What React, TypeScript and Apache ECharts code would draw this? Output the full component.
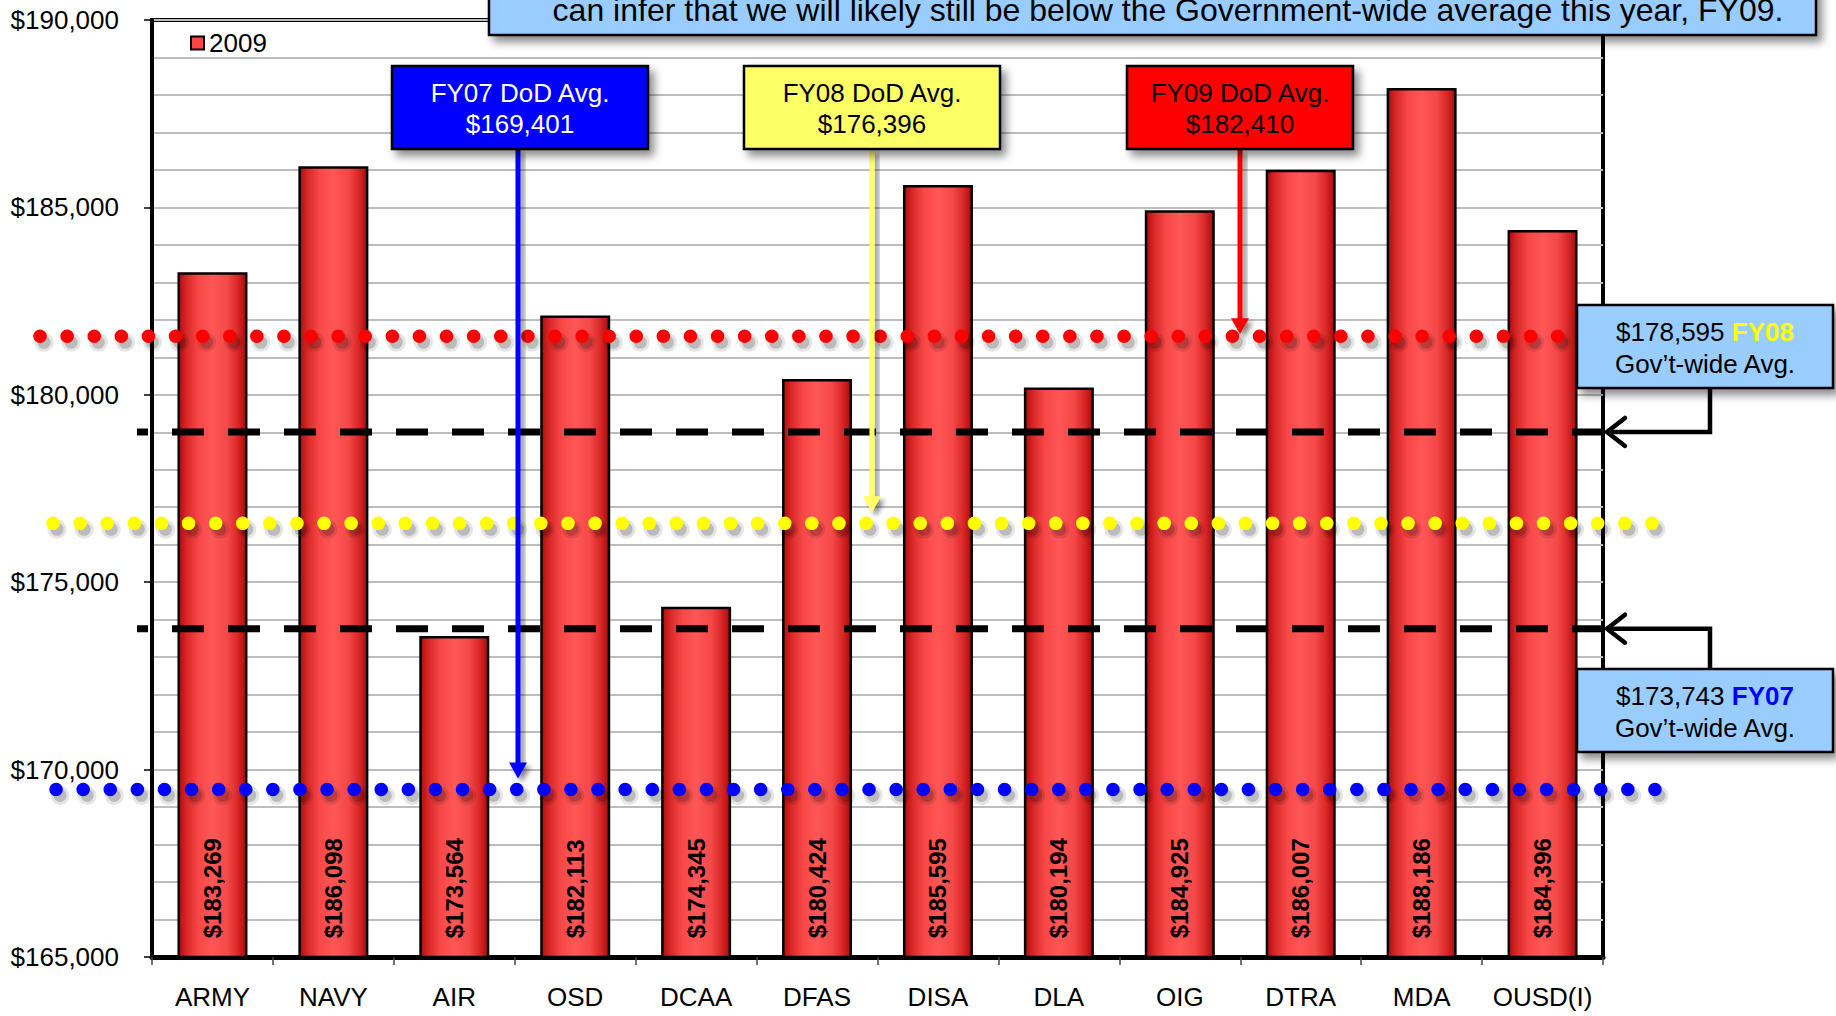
import React, { useEffect, useRef } from 'react';
import * as echarts from 'echarts';

// ---------- data ----------
const categories = ['ARMY', 'NAVY', 'AIR', 'OSD', 'DCAA', 'DFAS', 'DISA', 'DLA', 'OIG', 'DTRA', 'MDA', 'OUSD(I)'];
const values2009 = [183269, 186098, 173564, 182113, 174345, 180424, 185595, 180194, 184925, 186007, 188186, 184396];
const seriesName = '2009';
const yMin = 165000;
const yMax = 190000;
const yStep = 5000;

// reference lines as drawn in the picture (dotted: FY09, FY08, FY07 DoD; dashed: FY08, FY07 gov-wide)
const dottedLineValues = [181560, 176570, 169470];
const dashedLineValues = [179010, 173760];

const dodTitles = ['FY07 DoD Avg.', 'FY08 DoD Avg.', 'FY09 DoD Avg.'];
const dodValues = ['$169,401', '$176,396', '$182,410'];
const govValues = ['$178,595', '$173,743'];
const govYears = ['FY08', 'FY07'];
const govSubtitle = 'Gov\u2019t-wide Avg.';
const topNote = 'can infer that we will likely still be below the Government-wide average this year, FY09.';

const FONT = '"Liberation Sans", Arial, sans-serif';
const fmt = (v: number) => '$' + String(Math.round(v)).replace(/\B(?=(\d{3})+(?!\d))/g, ',');

export default function App() {
  const ref = useRef<HTMLDivElement>(null);

  useEffect(() => {
    if (!ref.current) return;
    const chart = echarts.init(ref.current, null, { renderer: 'svg' });

    const barGradient = new echarts.graphic.LinearGradient(0, 0, 1, 0, [
      { offset: 0, color: '#b00c0c' },
      { offset: 0.12, color: '#d92828' },
      { offset: 0.3, color: '#f84848' },
      { offset: 0.5, color: '#ff5656' },
      { offset: 0.72, color: '#f54848' },
      { offset: 0.88, color: '#d82626' },
      { offset: 1, color: '#a80a0a' },
    ]);

    chart.setOption({
      animation: false,
      backgroundColor: '#ffffff',
      textStyle: { fontFamily: FONT },
      grid: {
        left: 152,
        right: 233,
        top: 20,
        bottom: 59,
        show: true,
        borderColor: '#000',
        borderWidth: 4,
        backgroundColor: 'transparent',
      },
      legend: {
        data: [{ name: seriesName, icon: 'rect', itemStyle: { color: '#ff4444', borderColor: '#000', borderWidth: 2 } }],
        left: 190,
        top: 30,
        padding: 0,
        itemWidth: 13,
        itemHeight: 13,
        textStyle: { fontSize: 26, color: '#000', fontFamily: FONT },
      },
      xAxis: {
        type: 'category',
        data: categories,
        axisLine: { show: true, lineStyle: { color: '#000', width: 5 } },
        axisTick: { show: true, interval: 0, length: 8, lineStyle: { color: '#444', width: 1.5 } },
        axisLabel: { interval: 0, fontSize: 26, color: '#000', margin: 27, fontFamily: FONT },
        splitLine: { show: false },
      },
      yAxis: {
        type: 'value',
        min: yMin,
        max: yMax,
        interval: yStep,
        axisLine: { show: true, lineStyle: { color: '#000', width: 4 } },
        axisTick: { show: true, length: 8, lineStyle: { color: '#000', width: 1.5 } },
        axisLabel: { fontSize: 26, color: '#000', margin: 33, fontFamily: FONT, formatter: (v: number) => fmt(v) },
        splitLine: { show: true, lineStyle: { color: '#bdbdbd', width: 2 } },
        minorTick: { show: false, splitNumber: 5 },
        minorSplitLine: { show: true, lineStyle: { color: '#bdbdbd', width: 2 } },
      },
      series: [
        {
          name: seriesName,
          type: 'bar',
          data: values2009,
          barWidth: 70,
          itemStyle: { color: barGradient, borderColor: '#000', borderWidth: 2.5 },
          label: {
            show: true,
            position: 'insideBottom',
            distance: 20,
            rotate: 90,
            align: 'left',
            verticalAlign: 'middle',
            fontSize: 24,
            fontWeight: 'bold',
            color: '#000',
            fontFamily: FONT,
            formatter: (p: any) => fmt(p.value),
          },
          z: 2,
        },
      ],
    });

    const yPix = (v: number) => chart.convertToPixel({ yAxisIndex: 0 }, v) as number;
    const shadow = { shadowBlur: 6, shadowOffsetX: 4, shadowOffsetY: 5, shadowColor: 'rgba(0,0,0,0.45)' };
    const boxShadow = { shadowBlur: 8, shadowOffsetX: 5, shadowOffsetY: 6, shadowColor: 'rgba(0,0,0,0.45)' };

    const dotColors = ['#ff0000', '#ffff00', '#0000ff'];
    const dotX = [[40, 1592], [53, 1662], [56, 1662]];
    const elements: any[] = [];

    dottedLineValues.forEach((v, i) => {
      const y = yPix(v);
      const [x1, x2] = dotX[i];
      // soft shadow layers (no SVG filter on zero-height lines)
      elements.push({
        type: 'line',
        z: 49,
        shape: { x1: x1 + 4, y1: y + 6, x2: x2 + 4, y2: y + 6 },
        style: { stroke: 'rgba(0,0,0,0.10)', lineWidth: 19, lineDash: [0.1, 27], lineCap: 'round' },
      });
      elements.push({
        type: 'line',
        z: 49,
        shape: { x1: x1 + 4, y1: y + 6, x2: x2 + 4, y2: y + 6 },
        style: { stroke: 'rgba(0,0,0,0.18)', lineWidth: 13, lineDash: [0.1, 27], lineCap: 'round' },
      });
      elements.push({
        type: 'line',
        z: 50,
        shape: { x1, y1: y, x2, y2: y },
        style: { stroke: dotColors[i], lineWidth: 13.5, lineDash: [0.1, 27], lineCap: 'round' },
      });
    });

    dashedLineValues.forEach((v) => {
      const y = yPix(v);
      elements.push({
        type: 'line',
        z: 51,
        shape: { x1: 137, y1: y, x2: 1603, y2: y },
        style: { stroke: '#000', lineWidth: 7, lineDash: [32, 24], lineDashOffset: 21, lineCap: 'butt' },
      });
    });

    // DoD average callouts with arrows to their dotted line
    const dodBoxes = [
      { x: 392, w: 256, fill: '#0000ff', text: '#ffffff', arrow: '#0000ff', ax: 518, lineIdx: 2, gap: 11 },
      { x: 744, w: 256, fill: '#ffff66', text: '#000000', arrow: '#ffff66', ax: 872, lineIdx: 1, gap: 11 },
      { x: 1127, w: 226, fill: '#ff0000', text: '#000000', arrow: '#ff0000', ax: 1240, lineIdx: 0, gap: 2 },
    ];
    dodBoxes.forEach((b, i) => {
      const tip = yPix(dottedLineValues[b.lineIdx]) - b.gap;
      elements.push({
        type: 'rect',
        z: 58,
        shape: { x: b.ax - 2.5, y: 149, width: 5, height: tip - 14 - 149 },
        style: { fill: b.arrow, ...shadow, shadowBlur: 5, shadowOffsetY: 4 },
      });
      elements.push({
        type: 'polygon',
        z: 58,
        shape: { points: [[b.ax - 9, tip - 16], [b.ax + 9, tip - 16], [b.ax, tip]] },
        style: { fill: b.arrow, ...shadow, shadowBlur: 5, shadowOffsetY: 4 },
      });
      elements.push({
        type: 'rect',
        z: 60,
        shape: { x: b.x, y: 66, width: b.w, height: 83 },
        style: { fill: b.fill, stroke: '#000', lineWidth: 2.5, ...boxShadow },
      });
      elements.push({
        type: 'text',
        z: 61,
        x: b.x + b.w / 2,
        y: 108,
        style: {
          text: dodTitles[i] + '\n' + dodValues[i],
          fill: b.text,
          fontSize: 26,
          fontFamily: FONT,
          lineHeight: 31,
          align: 'center',
          verticalAlign: 'middle',
        },
      });
    });

    // Gov't-wide callouts with connectors to the dashed lines
    const govBoxes = [
      { y: 305, yearColor: '#ffff00', lineIdx: 0 },
      { y: 669, yearColor: '#0000ff', lineIdx: 1 },
    ];
    govBoxes.forEach((b, i) => {
      const ly = yPix(dashedLineValues[b.lineIdx]);
      const boxEdge = ly < b.y ? b.y : b.y + 83;
      elements.push({
        type: 'polyline',
        z: 58,
        shape: { points: [[1606, ly], [1710, ly], [1710, boxEdge]] },
        style: { stroke: '#000', lineWidth: 4.5, fill: null },
      });
      elements.push({
        type: 'polyline',
        z: 58,
        shape: { points: [[1625, ly - 14], [1607, ly], [1625, ly + 14]] },
        style: { stroke: '#000', lineWidth: 4.5, fill: null, lineCap: 'round' },
      });
      elements.push({
        type: 'rect',
        z: 60,
        shape: { x: 1577, y: b.y, width: 256, height: 83 },
        style: { fill: '#99ccff', stroke: '#000', lineWidth: 2.5, ...boxShadow },
      });
      elements.push({
        type: 'text',
        z: 61,
        x: 1705,
        y: b.y + 43,
        style: {
          text: '{a|' + govValues[i] + ' }{b|' + govYears[i] + '}\n{a|' + govSubtitle + '}',
          rich: {
            a: { fill: '#000', fontSize: 26, fontFamily: FONT, lineHeight: 32 },
            b: { fill: b.yearColor, fontSize: 26, fontWeight: 'bold', fontFamily: FONT, lineHeight: 32 },
          },
          align: 'center',
          verticalAlign: 'middle',
        },
      });
    });

    // top note box (partially off the page)
    elements.push({
      type: 'rect',
      z: 70,
      shape: { x: 489, y: -50, width: 1327, height: 85 },
      style: { fill: '#99ccff', stroke: '#000', lineWidth: 2.5, ...boxShadow },
    });
    elements.push({
      type: 'text',
      z: 71,
      x: 1168,
      y: 10,
      style: { text: topNote, fill: '#000', fontSize: 32, fontFamily: FONT, align: 'center', verticalAlign: 'middle' },
    });

    chart.setOption({ graphic: { elements } });

    return () => chart.dispose();
  }, []);

  return (
    <div
      ref={ref}
      style={{ position: 'absolute', left: 0, top: 0, width: 1836, height: 1016, background: '#fff' }}
    />
  );
}
